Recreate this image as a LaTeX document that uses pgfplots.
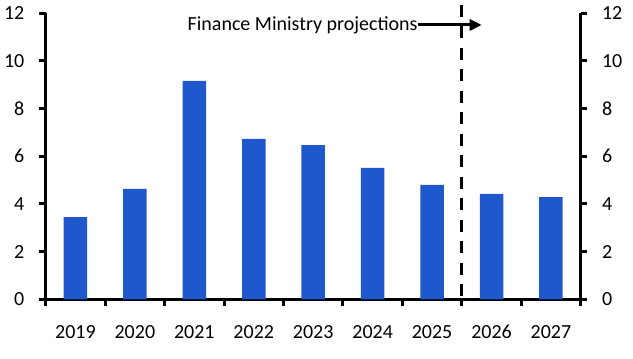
\documentclass[border=0pt]{standalone}
\usepackage{fontspec}
\setmainfont{Carlito}
\usepackage{pgfplots}
\pgfplotsset{compat=1.18}
\usetikzlibrary{arrows.meta}
\definecolor{barblue}{RGB}{31,88,204}
\newcommand{\cfont}{\fontsize{20bp}{24bp}\selectfont}
\pgfplotsset{
  common/.style={
    scale only axis, width=535bp, height=286bp,
    at={(0,0)}, anchor=south west,
    xmin=-0.5, xmax=8.5, ymin=0, ymax=12,
    axis line style={line width=3bp},
    tick align=outside,
    ytick={0,2,...,12},
    major tick length=6.5bp,
    minor tick length=6.5bp,
    every tick/.style={black, line width=3bp},
    /pgf/number format/assume math mode=true,
    tick label style={font=\cfont},
    clip=false,
  }
}
\begin{document}
\cfont
\begin{tikzpicture}
\path[use as bounding box] (-45.7bp,-59.7bp) rectangle (587.3bp,299.3bp);
\begin{axis}[common,
  axis x line*=bottom, axis y line*=left,
  xtick={0,...,8},
  xticklabels={2019,2020,2021,2022,2023,2024,2025,2026,2027},
  minor xtick={-0.5,0.5,...,8.5},
  major x tick style={draw=none},
  x tick label style={yshift=-13bp, anchor=north, text height=13bp, text depth=0pt},
  y tick label style={xshift=-8bp},
  ybar, bar width=23.5bp,
]
\addplot[fill=barblue, draw=none] coordinates {
 (0,3.45) (1,4.63) (2,9.16) (3,6.73) (4,6.47) (5,5.51) (6,4.80) (7,4.42) (8,4.29)};
\draw[black, line width=2.8bp, dash pattern=on 12bp off 9.5bp] (axis cs:6.5,12.35) -- (axis cs:6.5,0);
\draw[black, line width=3bp, -{Triangle[length=12bp,width=11bp]}] (axis cs:5.76,11.51) -- (axis cs:6.835,11.51);
\node[anchor=east, inner sep=0pt, font=\cfont] at (axis cs:5.76,11.51) {Finance Ministry projections};
\end{axis}
\begin{axis}[common,
  axis y line*=right, axis x line=none,
  y tick label style={xshift=8bp},
]
\addplot[draw=none] coordinates {(0,0)};
\end{axis}
\end{tikzpicture}
\end{document}
